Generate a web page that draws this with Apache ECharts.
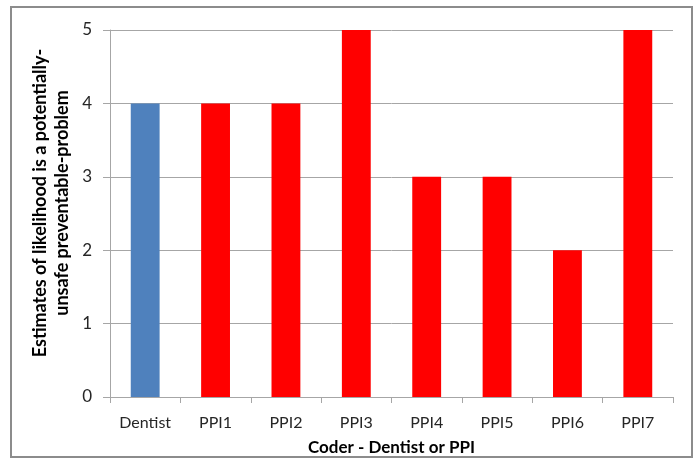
<!DOCTYPE html>
<html>
<head>
<meta charset="utf-8">
<script src="https://cdn.jsdelivr.net/npm/echarts@6/dist/echarts.min.js"></script>
<style>
  html, body { margin: 0; padding: 0; background: #ffffff; }
  #chart { width: 696px; height: 459px; }
</style>
</head>
<body>
<div id="chart"></div>
<script>
// Coders and their likelihood estimates
const coders = ['Dentist', 'PPI1', 'PPI2', 'PPI3', 'PPI4', 'PPI5', 'PPI6', 'PPI7'];
const estimates = [4, 4, 4, 5, 3, 3, 2, 5];
const barColors = ['#4F81BD', '#FF0000', '#FF0000', '#FF0000', '#FF0000', '#FF0000', '#FF0000', '#FF0000'];
const yTicks = [0, 1, 2, 3, 4, 5];

const FONT = 'Lato';
const chart = echarts.init(document.getElementById('chart'), null, { renderer: 'canvas' });

chart.setOption({
  backgroundColor: '#ffffff',
  animation: false,
  grid: { left: 110, right: 23, top: 30, bottom: 62, containLabel: false, outerBoundsMode: 'none' },
  graphic: [
    {
      type: 'rect',
      shape: { x: 11, y: 7, width: 681, height: 450 },
      style: { fill: 'none', stroke: '#8c8c8c', lineWidth: 2 },
      silent: true
    },
    {
      type: 'text',
      x: 51, y: 203,
      rotation: Math.PI / 2,
      style: {
        text: 'Estimates of likelihood is a potentially-\nunsafe preventable-problem',
        font: 'bold 18px ' + FONT,
        fill: '#000000',
        align: 'center',
        verticalAlign: 'middle',
        lineHeight: 22
      },
      silent: true
    }
  ],
  xAxis: {
    type: 'category',
    data: coders,
    name: 'Coder - Dentist or PPI',
    nameLocation: 'middle',
    nameGap: 42,
    nameTextStyle: { fontFamily: FONT, fontWeight: 'bold', fontSize: 17, color: '#000' },
    axisLine: { lineStyle: { color: '#a6a6a6', width: 1 } },
    axisTick: { show: true, length: 6, alignWithLabel: false, lineStyle: { color: '#a6a6a6' } },
    axisLabel: { interval: 0, fontFamily: FONT, fontSize: 16, color: '#262626', margin: 18 },
    splitLine: { show: false }
  },
  yAxis: {
    type: 'value',
    min: yTicks[0],
    max: yTicks[yTicks.length - 1],
    interval: 1,
    axisLine: { show: true, lineStyle: { color: '#a6a6a6', width: 1 } },
    axisTick: { show: true, length: 7, lineStyle: { color: '#a6a6a6' } },
    axisLabel: { fontFamily: FONT, fontSize: 17, color: '#262626', margin: 18 },
    splitLine: { show: true, lineStyle: { color: '#a6a6a6', width: 1 } }
  },
  series: [{
    type: 'bar',
    data: estimates.map((v, i) => ({ value: v, itemStyle: { color: barColors[i] } })),
    barWidth: '41%'
  }]
});
</script>
</body>
</html>
